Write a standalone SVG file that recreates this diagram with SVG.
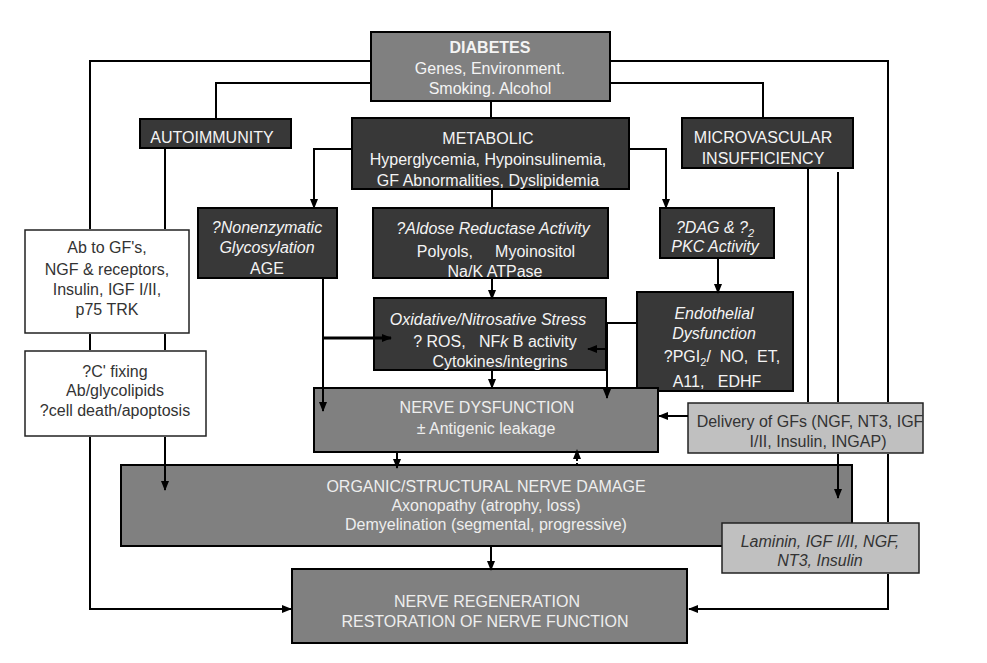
<svg xmlns="http://www.w3.org/2000/svg" width="987" height="663" viewBox="0 0 987 663">
<defs>
<marker id="ah" markerUnits="userSpaceOnUse" markerWidth="10" markerHeight="10" viewBox="0 0 10 10" refX="9" refY="5" orient="auto">
<path d="M0,1 L10,5 L0,9 Z" fill="#000"/>
</marker>
<style>
text{font-family:"Liberation Sans",Arial,sans-serif;font-size:16px;text-anchor:middle}
.dk{fill:#383838;stroke:#000;stroke-width:2}
.gr{fill:#808080;stroke:#000;stroke-width:2}
.lg{fill:#c0c0c0;stroke:#222;stroke-width:1.5}
.wh{fill:#fff;stroke:#222;stroke-width:1.5}
.tw{fill:#f4f4f4}
.tg{fill:#eeeeee}
.td{fill:#333}
.it{font-style:italic}
.ln{fill:none;stroke:#000;stroke-width:2}
.ar{fill:none;stroke:#000;stroke-width:2;marker-end:url(#ah)}
</style>
</defs>
<rect width="987" height="663" fill="#fff"/>

<g id="diabetes">
<rect class="gr" x="371" y="32" width="239" height="69"/>
<text class="tw" x="490" y="53" font-weight="bold">DIABETES</text>
<text class="tw" x="490" y="74">Genes, Environment.</text>
<text class="tw" x="490" y="94">Smoking. Alcohol</text>
</g>

<g id="autoimmunity">
<rect class="dk" x="140" y="119" width="151" height="29"/>
<text class="tw" x="212" y="143">AUTOIMMUNITY</text>
</g>

<g id="metabolic">
<rect class="dk" x="352" y="118" width="277" height="71"/>
<text class="tw" x="488" y="144">METABOLIC</text>
<text class="tw" x="488" y="165">Hyperglycemia, Hypoinsulinemia,</text>
<text class="tw" x="488" y="186">GF Abnormalities, Dyslipidemia</text>
</g>

<g id="microvascular">
<rect class="dk" x="682" y="118" width="171" height="50"/>
<text class="tw" x="763" y="143">MICROVASCULAR</text>
<text class="tw" x="763" y="164">INSUFFICIENCY</text>
</g>

<g id="nonenzymatic">
<rect class="dk" x="198" y="208" width="139" height="70"/>
<text class="tw it" x="267" y="233">?Nonenzymatic</text>
<text class="tw it" x="267" y="253">Glycosylation</text>
<text class="tw" x="267" y="274">AGE</text>
</g>

<g id="aldose">
<rect class="dk" x="373" y="208" width="235" height="70"/>
<text class="tw it" x="493" y="234">?Aldose Reductase Activity</text>
<text class="tw" x="496" y="257" xml:space="preserve">Polyols,     Myoinositol</text>
<text class="tw" x="495" y="277">Na/K ATPase</text>
</g>

<g id="dag">
<rect class="dk" x="660" y="208" width="114" height="50"/>
<text class="tw it" x="715" y="233">?DAG &amp; ?<tspan font-size="11" dy="4">2</tspan></text>
<text class="tw it" x="715" y="252">PKC Activity</text>
</g>

<g id="ab">
<rect class="wh" x="25" y="230" width="164" height="103"/>
<text class="td" x="107" y="253">Ab to GF's,</text>
<text class="td" x="107" y="275">NGF &amp; receptors,</text>
<text class="td" x="107" y="295">Insulin, IGF I/II,</text>
<text class="td" x="107" y="315">p75 TRK</text>
</g>

<g id="complement">
<rect class="wh" x="25" y="351" width="181" height="85"/>
<text class="td" x="115" y="377">?C' fixing</text>
<text class="td" x="115" y="396">Ab/glycolipids</text>
<text class="td" x="115" y="416">?cell death/apoptosis</text>
</g>

<g id="oxidative">
<rect class="dk" x="374" y="298" width="232" height="72"/>
<text class="tw it" x="488" y="325">Oxidative/Nitrosative Stress</text>
<text class="tw" x="495" y="347" xml:space="preserve">? ROS,   NF<tspan font-style="italic">k</tspan> B activity</text>
<text class="tw" x="500" y="367">Cytokines/integrins</text>
</g>

<g id="endothelial">
<rect class="dk" x="637" y="292" width="156" height="99"/>
<text class="tw it" x="714" y="319">Endothelial</text>
<text class="tw it" x="714" y="339">Dysfunction</text>
<text class="tw" x="722" y="362" xml:space="preserve">?PGI<tspan font-size="11" dy="4">2</tspan><tspan dy="-4">/  NO,  ET,</tspan></text>
<text class="tw" x="717" y="387" xml:space="preserve">A11,   EDHF</text>
</g>

<g id="nerve-dysfunction">
<rect class="gr" x="314" y="388" width="344" height="64"/>
<text class="tg" x="487" y="413">NERVE DYSFUNCTION</text>
<text class="tg" x="486" y="434">± Antigenic leakage</text>
</g>

<g id="delivery">
<rect class="lg" x="688" y="403" width="235" height="50"/>
<text class="td" x="810" y="427">Delivery of GFs (NGF, NT3, IGF</text>
<text class="td" x="818" y="447">I/II, Insulin, INGAP)</text>
</g>

<g id="organic">
<rect class="gr" x="121" y="465" width="731" height="81"/>
<text class="tg" x="486" y="492">ORGANIC/STRUCTURAL NERVE DAMAGE</text>
<text class="tg" x="486" y="511">Axonopathy (atrophy, loss)</text>
<text class="tg" x="486" y="530">Demyelination (segmental, progressive)</text>
</g>

<g id="laminin">
<rect class="lg" x="722" y="523" width="197" height="50"/>
<text class="td it" x="820" y="547">Laminin, IGF I/II, NGF,</text>
<text class="td it" x="820" y="566">NT3, Insulin</text>
</g>

<g id="regeneration">
<rect class="gr" x="292" y="569" width="395" height="74"/>
<text class="tg" x="487" y="607">NERVE REGENERATION</text>
<text class="tg" x="485" y="627">RESTORATION OF NERVE FUNCTION</text>
</g>

<g id="connectors">
<polyline class="ln" points="370,61 90,61 90,229"/>
<line class="ln" x1="90" y1="334" x2="90" y2="350"/>
<polyline class="ar" points="90,437 90,609 291,609"/>
<polyline class="ln" points="610,61 888,61 888,402"/>
<line class="ln" x1="888" y1="454" x2="888" y2="522"/>
<polyline class="ar" points="888,574 888,609 689,609"/>
<polyline class="ln" points="370,83 216,83 216,119"/>
<polyline class="ln" points="610,83 763,83 763,118"/>
<line class="ln" x1="491" y1="101" x2="491" y2="118"/>
<line class="ln" x1="165" y1="148" x2="165" y2="229"/>
<line class="ln" x1="165" y1="334" x2="165" y2="350"/>
<line class="ar" x1="165" y1="437" x2="165" y2="490"/>
<polyline class="ar" points="352,149 314,149 314,208"/>
<polyline class="ar" points="629,149 666,149 666,208"/>
<line class="ln" x1="492" y1="189" x2="492" y2="208"/>
<line class="ar" x1="492" y1="278" x2="492" y2="299"/>
<line class="ar" x1="718" y1="258" x2="718" y2="293"/>
<line class="ar" x1="323" y1="278" x2="323" y2="411"/>
<line x1="323" y1="338" x2="391" y2="338" stroke="#000" stroke-width="3" marker-end="url(#ah)"/>
<line class="ar" x1="492" y1="370" x2="492" y2="388"/>
<line class="ln" x1="606" y1="323" x2="638" y2="323"/>
<line class="ar" x1="607" y1="323" x2="607" y2="398"/>
<line class="ar" x1="607" y1="349" x2="588" y2="349"/>
<line class="ln" x1="808" y1="168" x2="808" y2="402"/>
<line class="ln" x1="838" y1="172" x2="838" y2="402"/>
<line class="ar" x1="838" y1="454" x2="838" y2="498"/>
<line class="ar" x1="688" y1="416" x2="659" y2="416"/>
<line class="ar" x1="397" y1="452" x2="397" y2="468"/>
<line x1="577" y1="465" x2="577" y2="450" stroke="#000" stroke-width="2" stroke-dasharray="2,2" marker-end="url(#ah)"/>
<line class="ar" x1="491" y1="546" x2="491" y2="570"/>
</g>
</svg>
